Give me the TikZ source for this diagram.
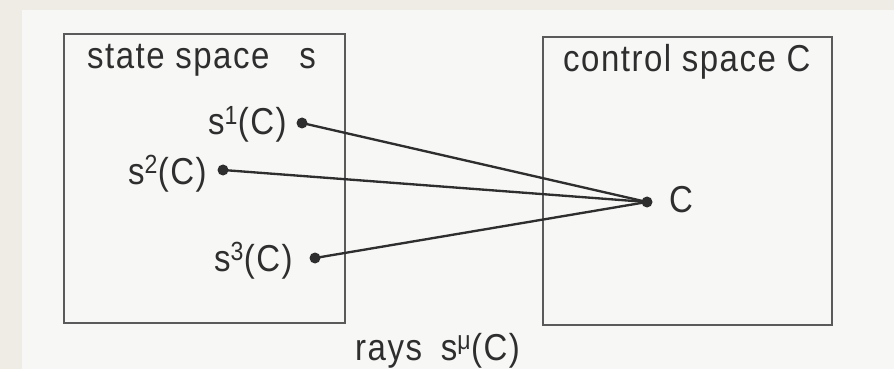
\documentclass[tikz,border=0pt]{standalone}
\usepackage{fontspec}
\setmainfont{Liberation Sans}[FakeStretch=0.88, LetterSpace=4]
\usepackage{tikz}

\definecolor{paper}{HTML}{F7F7F6}
\definecolor{margin}{HTML}{EFECE6}
\definecolor{ink}{HTML}{2E2E2E}
\definecolor{frame}{HTML}{5A5A5A}

\tikzset{
  spacebox/.style={draw=frame, line width=1.3pt, minimum width=8.43cm, minimum height=8.67cm, inner sep=0pt},
  lbl/.style={text=ink, font=\fontsize{32}{38}\selectfont, inner sep=0pt, anchor=base west},
  ptlbl/.style={lbl, anchor=base east},
  pt/.style={circle, fill=ink, inner sep=0pt, minimum size=0.33cm},
  ray/.style={draw=ink, line width=2pt}
}

\begin{document}
\begin{tikzpicture}[x=0.03cm, y=-0.03cm]
  \useasboundingbox (0,0) rectangle (894,369);
  %paper and scan margin
  \fill[margin] (0,0) rectangle (894,369);
  \fill[paper] (22,10) rectangle (894,369);
  %the two spaces
  \node[spacebox] (statebox) at (204.5,178.5) {};
  \node[spacebox, minimum width=8.67cm, minimum height=8.64cm] (controlbox) at (687.5,181) {};
  \node[lbl] (statetitle) at (87,69) {state space\hspace{0.8em}s};
  \node[lbl] (controltitle) at (563,72) {control space C};
  %points on the rays
  \node[pt] (s1) at (302,123) {};
  \node[pt] (s2) at (223,170) {};
  \node[pt] (s3) at (315,258) {};
  \node[pt] (c) at (647,202) {};
  %labels of the points
  \node[ptlbl] (l1) at (287,135) {s\textsuperscript{1}(C)};
  \node[ptlbl] (l2) at (207,184) {s\textsuperscript{2}(C)};
  \node[ptlbl] (l3) at (293,271) {s\textsuperscript{3}(C)};
  \node[lbl] (lc) at (669,213) {C};
  \node[lbl] (rays) at (355,360) {rays\hspace{0.5em}s\textsuperscript{μ}(C)};
  %rays
  \draw[ray] (s1.center) -- (c.center);
  \draw[ray] (s2.center) -- (c.center);
  \draw[ray] (s3.center) -- (c.center);
\end{tikzpicture}
\end{document}
